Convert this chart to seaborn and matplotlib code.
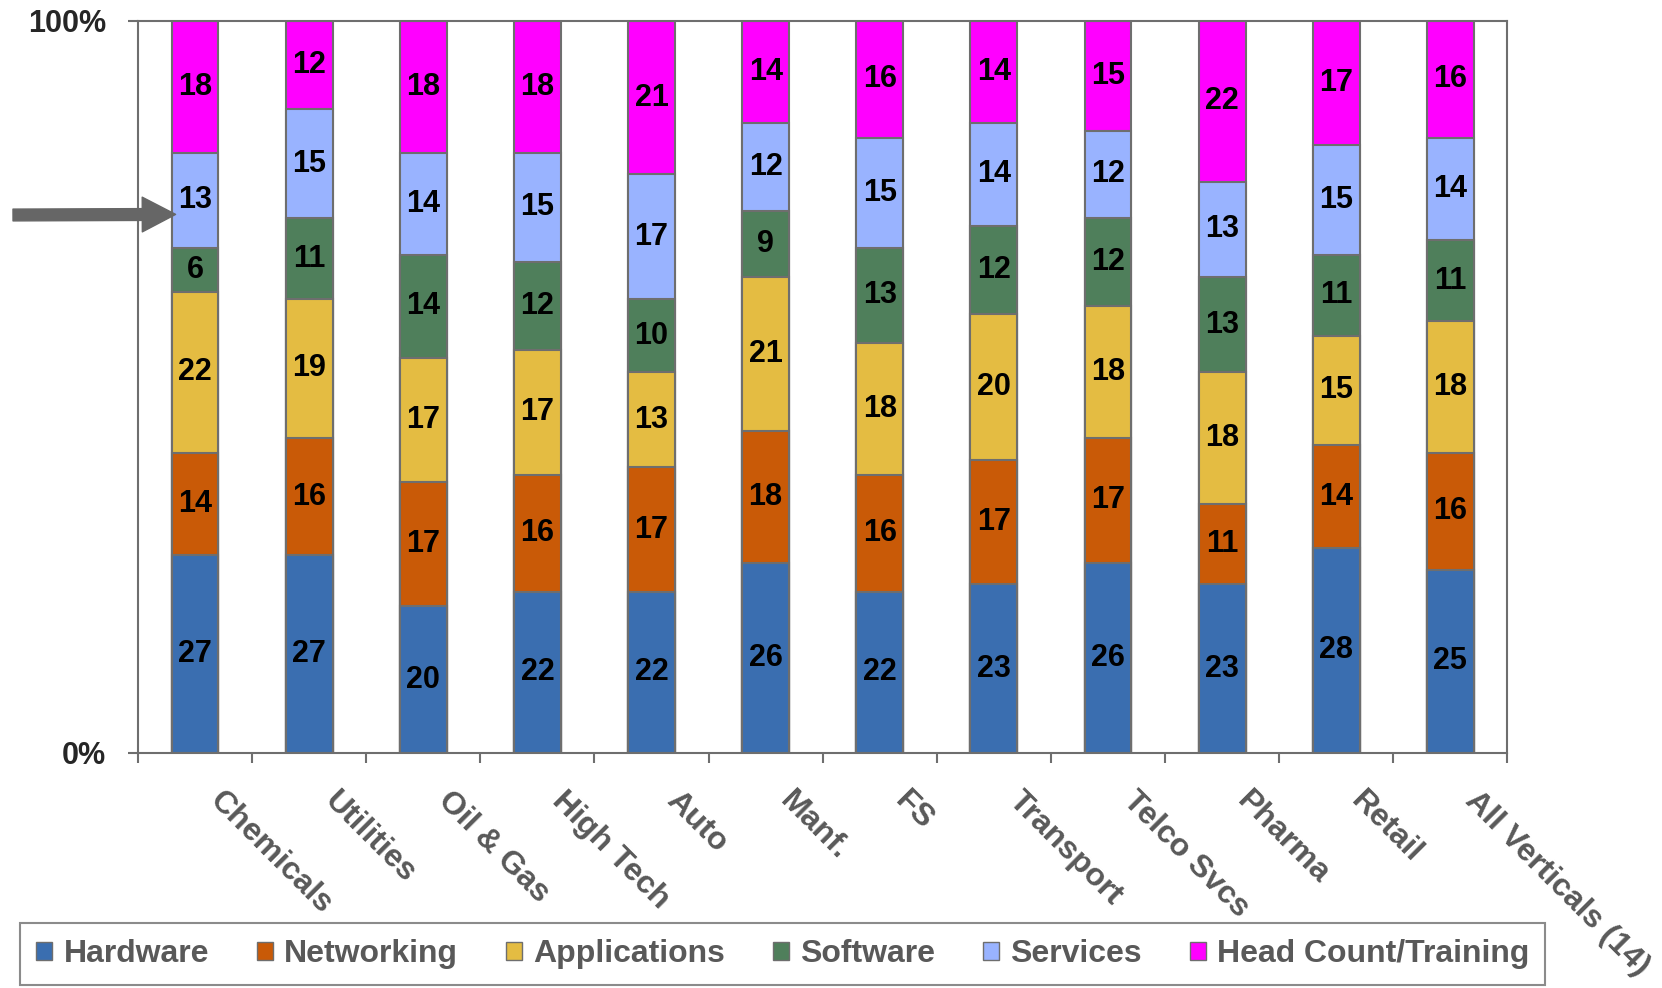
import numpy as np
import pandas as pd
import seaborn as sns
import matplotlib.pyplot as plt
from matplotlib.patches import Patch
from matplotlib.transforms import ScaledTranslation

# -----------------------------
# Data (percent share of spend by vertical)
# -----------------------------
verticals = ["Chemicals", "Utilities", "Oil & Gas", "High Tech", "Auto", "Manf.", "FS",
             "Transport", "Telco Svcs", "Pharma", "Retail", "All Verticals (14)"]
series = ["Hardware", "Networking", "Applications", "Software", "Services",
          "Head Count/Training"]

hardware = [27, 27, 20, 22, 22, 26, 22, 23, 26, 23, 28, 25]
networking = [14, 16, 17, 16, 17, 18, 16, 17, 17, 11, 14, 16]
applications = [22, 19, 17, 17, 13, 21, 18, 20, 18, 18, 15, 18]
software = [6, 11, 14, 12, 10, 9, 13, 12, 12, 13, 11, 11]
services = [13, 15, 14, 15, 17, 12, 15, 14, 12, 13, 15, 14]
head_count = [18, 12, 18, 18, 21, 14, 16, 14, 15, 22, 17, 16]

colors = ["#3a6eb0", "#c95a07", "#e4bc42", "#4f7f5b", "#99b3ff", "#ff00ff"]

df = pd.DataFrame({
    "Hardware": hardware,
    "Networking": networking,
    "Applications": applications,
    "Software": software,
    "Services": services,
    "Head Count/Training": head_count,
}, index=verticals)

pct = df.div(df.sum(axis=1), axis=0) * 100
cum = pct.cumsum(axis=1)

# -----------------------------
# Plot
# -----------------------------
sns.set_style("white")
plt.rcParams["font.family"] = ["Liberation Sans", "DejaVu Sans"]

edge = "#6e6e6e"
fig, ax = plt.subplots(figsize=(16.62, 9.88), dpi=100)
fig.subplots_adjust(left=0.083, right=0.907, top=0.979, bottom=0.238)

# stacked bars: draw cumulative tops from the top series down
for name, color in reversed(list(zip(series, colors))):
    sns.barplot(x=verticals, y=cum[name].values, color=color, width=0.41,
                edgecolor=edge, linewidth=1.5, saturation=1, errorbar=None, ax=ax)

# segment labels
for name in series:
    for i in range(len(verticals)):
        y = cum[name].iloc[i] - pct[name].iloc[i] / 2
        ax.text(i, y, str(df[name].iloc[i]), ha="center", va="center",
                fontsize=22, fontweight="bold", color="black")

# axes
ax.set_xlim(-0.5, len(verticals) - 0.5)
ax.set_ylim(0, 100)
ax.set_yticks([0, 100])
ax.set_yticklabels(["0%", "100%"], fontsize=22, fontweight="bold")
ax.tick_params(axis="y", length=7, width=1.5, color=edge, pad=16, left=True)

ax.set_xticks(range(len(verticals)))
ax.set_xticklabels(verticals, rotation=-45, ha="left", va="top",
                   rotation_mode="anchor", color="#595959",
                   fontsize=23, fontweight="bold")
ax.set_xticks(np.arange(-0.5, len(verticals), 1), minor=True)
ax.tick_params(axis="x", which="major", length=0, pad=24)
ax.tick_params(axis="x", which="minor", length=7, width=1.5, color=edge,
               direction="out", bottom=True)
shift = ScaledTranslation(0.3, 0, fig.dpi_scale_trans)
for lab in ax.get_xticklabels():
    lab.set_transform(lab.get_transform() + shift)

ax.set_xlabel("")
ax.set_ylabel("")
for sp in ax.spines.values():
    sp.set_visible(True)
    sp.set_color(edge)
    sp.set_linewidth(1.5)

# arrow pointing at Chemicals / Services
arrow_y = cum["Software"].iloc[0] + pct["Services"].iloc[0] * 0.35
ax.annotate("", xy=(-0.17, arrow_y), xycoords="data",
            xytext=(13, 988 - 215), textcoords="figure pixels",
            arrowprops=dict(facecolor="#666666", edgecolor="#666666",
                            width=8.5, headwidth=25, headlength=24, shrink=0),
            annotation_clip=False)

# legend
handles = [Patch(facecolor=c, edgecolor=edge, label=s) for s, c in zip(series, colors)]
leg = fig.legend(handles=handles, loc="lower center", bbox_to_anchor=(0.471, 0.003),
                 ncol=6, frameon=True, fancybox=False, edgecolor=edge,
                 prop={"size": 23, "weight": "bold"}, labelcolor="#595959",
                 handlelength=0.5, handleheight=0.5, handletextpad=0.35,
                 columnspacing=1.5, borderpad=0.5, borderaxespad=0)
leg.get_frame().set_linewidth(1.5)

plt.savefig("out.png", dpi=100)
